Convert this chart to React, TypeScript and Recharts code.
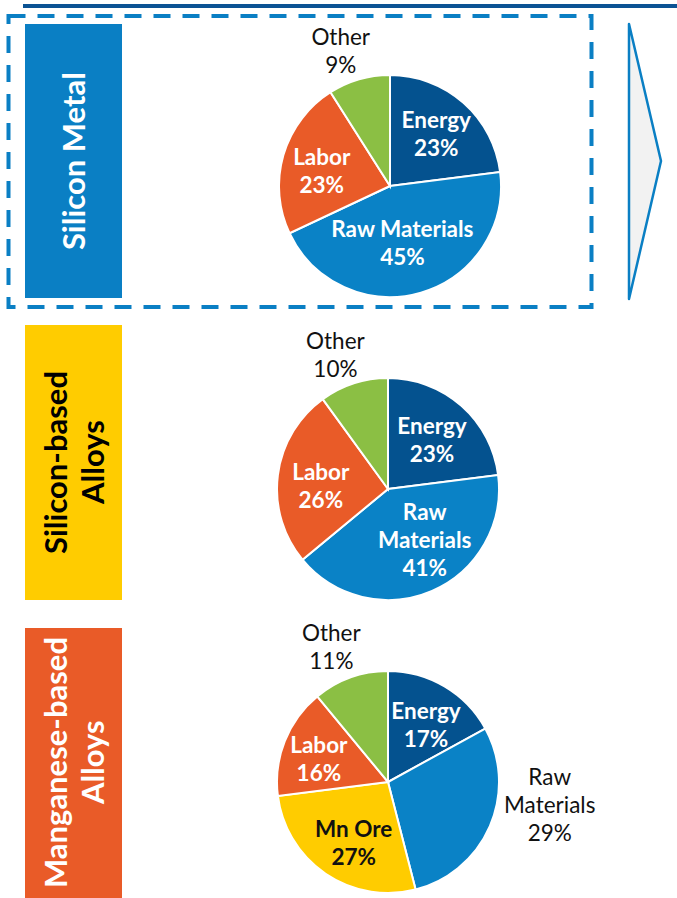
import { PieChart, Pie, Cell } from "recharts";

// slice names and values (percent), read clockwise from 12 o'clock
const SM_SLICES = ["Energy", "Raw Materials", "Labor", "Other"];
const SM_VALUES = [23, 45, 23, 9];
const SM_LINES = [["Energy"], ["Raw Materials"], ["Labor"], ["Other"]];

const SBA_SLICES = ["Energy", "Raw Materials", "Labor", "Other"];
const SBA_VALUES = [23, 41, 26, 10];
const SBA_LINES = [["Energy"], ["Raw", "Materials"], ["Labor"], ["Other"]];

const MBA_SLICES = ["Energy", "Raw Materials", "Mn Ore", "Labor", "Other"];
const MBA_VALUES = [17, 29, 27, 16, 11];
const MBA_LINES = [["Energy"], ["Raw", "Materials"], ["Mn Ore"], ["Labor"], ["Other"]];

const GROUPS = ["Silicon Metal", "Silicon-based Alloys", "Manganese-based Alloys"];

const COLORS: Record<string, string> = {
  Energy: "#04528f",
  "Raw Materials": "#0a82c6",
  "Mn Ore": "#ffcc00",
  Labor: "#e95b28",
  Other: "#8bbf44",
};

type LabelStyle = { rf: number; dx: number; dy: number; color: string; bold: boolean };

const W = (rf: number, dx = 0, dy = 0): LabelStyle => ({ rf, dx, dy, color: "#fff", bold: true });
const K = (rf: number, dx = 0, dy = 0, bold = false): LabelStyle => ({ rf, dx, dy, color: "#111", bold });

const SM_STYLE = [W(0.63), W(0.53, -4), W(0.64, 0, 4), K(1.3, -9, 3)];
const SBA_STYLE = [W(0.6), W(0.56, 12, -7), W(0.61, 0, 5), K(1.3, -8, 3)];
const MBA_STYLE = [W(0.62, 3, 2), K(1.46, 13, -42), K(0.63, 5, 3, true), W(0.67, 0, 4), K(1.32, -7, 2)];

const RADIAN = Math.PI / 180;
const FONT = "Lato, 'Open Sans', sans-serif";

function toRows(names: string[], values: number[]) {
  return names.map((name, i) => ({ name, value: values[i] }));
}

function makeLabel(lines: string[][], styles: LabelStyle[]) {
  return (props: any) => {
    const { cx, cy, midAngle, outerRadius, index, value } = props;
    const s = styles[index];
    const r = outerRadius * s.rf;
    const x = cx + r * Math.cos(-midAngle * RADIAN) + s.dx;
    const y = cy + r * Math.sin(-midAngle * RADIAN) + s.dy;
    const rows = [...lines[index], `${value}%`];
    const lh = 28;
    const y0 = y - ((rows.length - 1) * lh) / 2;
    return (
      <text
        key={`lbl-${index}`}
        x={x}
        y={y0}
        textAnchor="middle"
        fill={s.color}
        fontFamily={FONT}
        fontSize={22.5}
        fontWeight={s.bold ? 700 : 400}
      >
        {rows.map((t, i) => (
          <tspan key={i} x={x} y={y0 + i * lh} dominantBaseline="central">
            {t}
          </tspan>
        ))}
      </text>
    );
  };
}

function SideBox({ top, height, bg, color, text }: { top: number; height: number; bg: string; color: string; text: string }) {
  const parts = text.split(" ");
  return (
    <div
      style={{
        position: "absolute",
        left: 25,
        top,
        width: 97,
        height,
        background: bg,
        display: "flex",
        alignItems: "center",
        justifyContent: "center",
      }}
    >
      <div
        style={{
          writingMode: "vertical-rl",
          transform: "rotate(180deg)",
          color,
          fontFamily: FONT,
          fontWeight: 700,
          fontSize: 31,
          lineHeight: "37px",
          textAlign: "center",
          whiteSpace: "nowrap",
        }}
      >
        {text === "Silicon Metal" ? text : parts.map((p, i) => <div key={i}>{p}</div>)}
      </div>
    </div>
  );
}

export default function App() {
  const pies = [
    { data: toRows(SM_SLICES, SM_VALUES), lines: SM_LINES, style: SM_STYLE, cx: 390, cy: 186 },
    { data: toRows(SBA_SLICES, SBA_VALUES), lines: SBA_LINES, style: SBA_STYLE, cx: 388, cy: 489 },
    { data: toRows(MBA_SLICES, MBA_VALUES), lines: MBA_LINES, style: MBA_STYLE, cx: 388, cy: 782 },
  ];

  return (
    <div style={{ position: "absolute", left: 0, top: 0, width: 677, height: 898, background: "#fff", overflow: "hidden" }}>
      <div style={{ position: "absolute", left: 23, top: 4, width: 654, height: 4, background: "#0b5394" }} />
      <svg width={677} height={898} style={{ position: "absolute", left: 0, top: 0 }}>
        <rect x={8.5} y={16} width={583} height={291} fill="none" stroke="#0a7fc4" strokeWidth={4} strokeDasharray="17 12" />
        <polygon points="629,24 661,161 629,299" fill="#f2f2f2" stroke="#0a7fc4" strokeWidth={2.5} strokeLinejoin="round" />
      </svg>

      <SideBox top={24} height={274} bg="#0a7fc4" color="#fff" text={GROUPS[0]} />
      <SideBox top={325} height={275} bg="#ffcc00" color="#000" text={GROUPS[1]} />
      <SideBox top={628} height={270} bg="#e95b28" color="#fff" text={GROUPS[2]} />

      <div style={{ position: "absolute", left: 0, top: 0 }}>
        <PieChart width={677} height={898} margin={{ top: 0, right: 0, bottom: 0, left: 0 }}>
          {pies.map((p, k) => (
            <Pie
              key={k}
              data={p.data}
              dataKey="value"
              nameKey="name"
              cx={p.cx}
              cy={p.cy}
              outerRadius={111}
              startAngle={90}
              endAngle={-270}
              stroke="#fff"
              strokeWidth={2}
              labelLine={false}
              label={makeLabel(p.lines, p.style)}
              isAnimationActive={false}
            >
              {p.data.map((d) => (
                <Cell key={d.name} fill={COLORS[d.name]} />
              ))}
            </Pie>
          ))}
        </PieChart>
      </div>
    </div>
  );
}
